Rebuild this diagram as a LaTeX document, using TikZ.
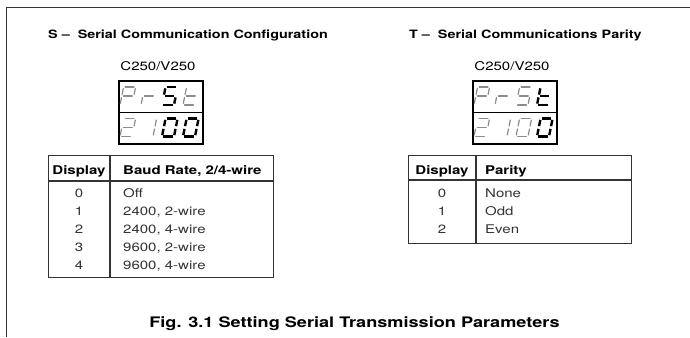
\documentclass[tikz,border=0pt]{standalone}
\usepackage{fontspec}
\setmainfont{TeX Gyre Heros}[FakeStretch=1.25]

%% seven segment glyphs: corners 1 top-left, 2 top-right, 3/4 middle, 5/6 bottom
\newcommand{\glP}{1/2,2/4,1/3,3/4,3/5}
\newcommand{\glr}{3/4,3/5}
\newcommand{\glS}{1/2,1/3,3/4,4/6,5/6}
\newcommand{\glt}{1/3,3/5,3/4,5/6}
\newcommand{\gltwo}{1/2,2/4,3/4,3/5,5/6}
\newcommand{\glone}{2/4,4/6}
\newcommand{\glzero}{1/2,2/4,4/6,5/6,3/5,1/3}

\newcommand{\segglyph}[4]{%
  \begin{scope}[shift={(#1,#2)},xslant=0.2]
    \coordinate (q1) at (0,18); \coordinate (q2) at (12,18);
    \coordinate (q3) at (0,9);  \coordinate (q4) at (12,9);
    \coordinate (q5) at (0,0);  \coordinate (q6) at (12,0);
    \foreach \p/\q in #3 \draw[#4] (q\p) -- (q\q);
  \end{scope}}

\begin{document}
\begin{tikzpicture}[x=1pt, y=1pt,
    txt/.style={inner sep=0pt, text=black},
    ttl/.style={txt, font=\fontsize{11.5}{14}\selectfont\bfseries},
    model/.style={txt, font=\fontsize{12}{14}\selectfont},
    head/.style={txt, font=\fontsize{12}{14}\selectfont\bfseries},
    row/.style={txt, text=black!80, font=\fontsize{12}{14}\selectfont},
    tabbox/.style={draw=black!80, line width=1.1pt, inner sep=0pt, anchor=north west},
    tabline/.style={draw=black!80, line width=1.1pt},
    dispbox/.style={draw=black, line width=1.6pt, inner sep=0pt, anchor=north west,
      minimum width=84, minimum height=63},
    segoff/.style={draw=black!45, line width=1.2pt, line cap=round, shorten <=1.6pt, shorten >=1.6pt},
    segon/.style={draw=black, line width=2.4pt, shorten <=1.4pt, shorten >=1.4pt}]
  \useasboundingbox (0,0) rectangle (690,-337);

  %% frame
  \draw[black!80, line width=0.9pt] (690,-7) -- (6,-7) -- (6,-337);

  %% headings
  \node[ttl, anchor=base west] (stitle) at (48,-39) {S --\ \ Serial Communication Configuration};
  \node[ttl, anchor=base west] (ttitle) at (409,-39) {T --\ \ Serial Communications Parity};
  \node[model, anchor=base] (smodel) at (158,-70.5) {C250/V250};
  \node[model, anchor=base] (tmodel) at (512,-70.5) {C250/V250};

  %% displays
  \node[dispbox] (sdisp) at (118,-80) {};
  \draw[black, line width=1.6pt] (sdisp.west) -- (sdisp.east);
  \segglyph{120}{-105}{\glP}{segoff}
  \segglyph{141}{-105}{\glr}{segoff}
  \segglyph{162}{-105}{\glS}{segon}
  \segglyph{183}{-105}{\glt}{segoff}
  \segglyph{120}{-136.5}{\gltwo}{segoff}
  \segglyph{141}{-136.5}{\glone}{segoff}
  \segglyph{162}{-136.5}{\glzero}{segon}
  \segglyph{183}{-136.5}{\glzero}{segon}

  \node[dispbox] (tdisp) at (472,-80) {};
  \draw[black, line width=1.6pt] (tdisp.west) -- (tdisp.east);
  \segglyph{474}{-105}{\glP}{segoff}
  \segglyph{495}{-105}{\glr}{segoff}
  \segglyph{516}{-105}{\glS}{segoff}
  \segglyph{537}{-105}{\glt}{segon}
  \segglyph{474}{-136.5}{\gltwo}{segoff}
  \segglyph{495}{-136.5}{\glone}{segoff}
  \segglyph{516}{-136.5}{\glzero}{segoff}
  \segglyph{537}{-136.5}{\glzero}{segon}

  %% baud rate table
  \node[tabbox, minimum width=225, minimum height=122] (baudtab) at (48,-155) {};
  \draw[tabline] (baudtab.west |- 0,-181) -- (baudtab.east |- 0,-181);
  \draw[tabline] (baudtab.north west) ++(62,0) -- ++(0,-122);
  \node[head, anchor=base] (baudhd) at (79,-174) {Display};
  \node[head, anchor=base west] (baudhdb) at (123,-174) {Baud Rate, 2/4-wire};
  \foreach \n/\t [count=\i from 0] in {0/Off, 1/{2400, 2-wire}, 2/{2400, 4-wire},
      3/{9600, 2-wire}, 4/{9600, 4-wire}} {
    \node[row, anchor=base] (baud\i) at (79,{-197-18.2*\i}) {\n};
    \node[row, anchor=base west] (baudval\i) at (123,{-197-18.2*\i}) {\t};
  }

  %% parity table
  \node[tabbox, minimum width=223, minimum height=88] (partab) at (408,-155) {};
  \draw[tabline] (partab.west |- 0,-180) -- (partab.east |- 0,-180);
  \draw[tabline] (partab.north west) ++(68,0) -- ++(0,-88);
  \node[head, anchor=base] (parhd) at (442,-174) {Display};
  \node[head, anchor=base west] (parhdb) at (485,-174) {Parity};
  \foreach \n/\t [count=\i from 0] in {0/None, 1/Odd, 2/Even} {
    \node[row, anchor=base] (par\i) at (442,{-197-18.2*\i}) {\n};
    \node[row, anchor=base west] (parval\i) at (485,{-197-18.2*\i}) {\t};
  }

  %% caption
  \node[txt, anchor=base, font=\fontsize{14.5}{17}\selectfont\bfseries] (caption) at (354.5,-327.5)
    {Fig. 3.1 Setting Serial Transmission Parameters};
\end{tikzpicture}
\end{document}
